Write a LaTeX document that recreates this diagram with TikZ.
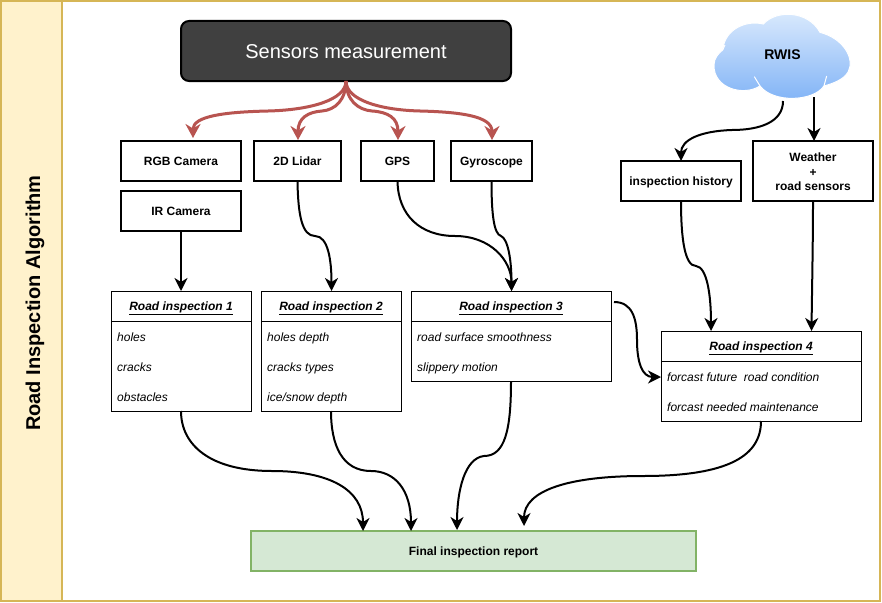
\documentclass[tikz,border=0pt]{standalone}
\usepackage{fontspec}
\setmainfont{Liberation Sans}
\usetikzlibrary{arrows.meta}
\usetikzlibrary{positioning}
\definecolor{stripfill}{HTML}{FFF2CC}
\definecolor{stripline}{HTML}{D6B656}
\definecolor{darkbox}{HTML}{404040}
\definecolor{sensorred}{HTML}{B85450}
\definecolor{finalfill}{HTML}{D5E8D4}
\definecolor{finalline}{HTML}{82B366}
\definecolor{cloudtop}{HTML}{DCEBFD}
\definecolor{cloudbottom}{HTML}{7FB2F6}
\tikzset{flow/.style = {line width = 2, -{Stealth[length = 13pt, width = 13pt, inset = 4pt]}}}
\tikzset{sensorline/.style = {line width = 3, color = sensorred, -{Stealth[length = 14pt, width = 15pt, inset = 4.5pt]}}}
\tikzset{box/.style = {draw, line width = 2, rectangle, inner sep = 0, outer sep = 0, align = center, font = \fontsize{12}{14.6}\selectfont\bfseries}}
\tikzset{boxline/.style = {box, text height = 8.6, text depth = 0}}
\tikzset{roadbox/.style = {draw, line width = 1, rectangle, inner sep = 0, outer sep = 0, fill = white}}
\tikzset{roadtitle/.style = {roadbox, text height = 8.6, text depth = 0, font = \fontsize{12}{14}\selectfont\bfseries\itshape}}
\tikzset{roaditem/.style = {anchor = base west, inner sep = 0, font = \fontsize{12}{14}\selectfont\itshape}}

\begin{document}
\begin{tikzpicture}[x=1pt, y=-1pt]
      \useasboundingbox (0, 0) rectangle (882, 602);
      \fill [white] (0, 0) rectangle (882, 602);

      \draw [stripline, line width = 2] (1, 1.5) rectangle (880, 601);
      \draw [stripline, line width = 2, fill = stripfill] (1, 1.5) rectangle (61.5, 601);
      \node [rotate = 90, font = \fontsize{20}{24}\selectfont\bfseries] (title) at (35, 303) {Road Inspection Algorithm};

      \node [draw, line width = 2, fill = darkbox, text = white, rounded corners = 8, minimum width = 330, minimum height = 60, inner sep = 0, outer sep = 0, text height = 14.4, text depth = 0, font = \fontsize{20}{24}\selectfont] (sensors) at (346, 51) {Sensors measurement};

      \node [boxline, minimum width = 120, minimum height = 40] (rgb) at (181, 161) {RGB Camera};
      \node [boxline, minimum width = 120, minimum height = 40] (ir) at (181, 211) {IR Camera};
      \node [boxline, minimum width = 87, minimum height = 40] (lidar) at (297.5, 161) {2D Lidar};
      \node [boxline, minimum width = 73, minimum height = 40] (gps) at (397.5, 161) {GPS};
      \node [boxline, minimum width = 81, minimum height = 40] (gyro) at (491.5, 161) {Gyroscope};
      \node [boxline, minimum width = 120, minimum height = 40] (history) at (681, 181) {inspection history};
      \node [box, minimum width = 120, minimum height = 60] (weather) at (813, 171) {};
      \node [box, draw = none] (weatherlabel) at (813, 172) {Weather\\+\\road sensors};

      % cloud
      \begin{scope}[shift = {(600, 0)}, x = 0.3333pt, y = -0.3333pt]
        \draw [white, line width = 1, top color = cloudtop, bottom color = cloudbottom]
        (368, 150) .. controls (375, 85) and (440, 60) .. (490, 72)
        .. controls (530, 28) and (625, 32) .. (660, 97)
        .. controls (730, 115) and (765, 175) .. (745, 215)
        .. controls (730, 240) and (700, 250) .. (672, 258)
        .. controls (640, 305) and (520, 310) .. (480, 258)
        .. controls (430, 290) and (340, 265) .. (342, 195)
        .. controls (342, 175) and (355, 160) .. (368, 150) -- cycle;
        \draw [white, line width = 1] (480, 258) -- (463, 230);
        \draw [white, line width = 1] (672, 258) -- (680, 228);
        \draw [white, line width = 1] (368, 150) -- (375, 135);
      \end{scope}
      \node [font = \fontsize{14}{16}\selectfont\bfseries] (rwis) at (782.5, 55) {RWIS};

      \node [roadbox, minimum width = 140, minimum height = 120] (road1) at (181, 351) {};
      \node [roadtitle, minimum width = 140, minimum height = 30] (road1head) at (181, 306) {\underline{Road inspection 1}};
      \node [roaditem] (holes) at (117, 341) {holes};
      \node [roaditem] (cracks) at (117, 371) {cracks};
      \node [roaditem] (obstacles) at (117, 401) {obstacles};

      \node [roadbox, minimum width = 140, minimum height = 120] (road2) at (331, 351) {};
      \node [roadtitle, minimum width = 140, minimum height = 30] (road2head) at (331, 306) {\underline{Road inspection 2}};
      \node [roaditem] (depth) at (267, 341) {holes depth};
      \node [roaditem] (types) at (267, 371) {cracks types};
      \node [roaditem] (snow) at (267, 401) {ice/snow depth};

      \node [roadbox, minimum width = 200, minimum height = 90] (road3) at (511, 336) {};
      \node [roadtitle, minimum width = 200, minimum height = 30] (road3head) at (511, 306) {\underline{Road inspection 3}};
      \node [roaditem] (smooth) at (417, 341) {road surface smoothness};
      \node [roaditem] (slippery) at (417, 371) {slippery motion};

      \node [roadbox, minimum width = 200, minimum height = 90] (road4) at (761, 376) {};
      \node [roadtitle, minimum width = 200, minimum height = 30] (road4head) at (761, 346) {\underline{Road inspection 4}};
      \node [roaditem] (future) at (667, 381) {forcast future\ \ road condition};
      \node [roaditem] (needed) at (667, 411) {forcast needed maintenance};

      \node [draw = finalline, line width = 2, fill = finalfill, minimum width = 445, minimum height = 40, inner sep = 0, outer sep = 0, text height = 8.6, text depth = 0, font = \fontsize{12}{14}\selectfont\bfseries] (final) at (473.5, 551) {Final inspection report};

      \coordinate (rgbin) at (193, 138);
      \coordinate (lidarin) at (298, 140);
      \coordinate (gpsin) at (398, 140);
      \coordinate (gyroin) at (492, 140);
      \coordinate (road2in) at (331.5, 291);
      \coordinate (road3in) at (511.5, 291);
      \coordinate (road4a) at (711, 331);
      \coordinate (road4b) at (811.5, 331);
      \coordinate (road4c) at (661, 377);
      \coordinate (road3out) at (614, 302);
      \coordinate (finala) at (363, 531);
      \coordinate (finalb) at (411, 531);
      \coordinate (finalc) at (457, 530);
      \coordinate (finald) at (524, 526);
      \coordinate (cloudl) at (783, 101);
      \coordinate (cloudr) at (814, 97);
      \coordinate (historyin) at (681, 161);
      \coordinate (weatherin) at (814, 141);

      \draw [sensorline] (sensors.south) .. controls (346, 100) and (310, 110) .. (268, 111) .. controls (225, 112) and (193, 116) .. (rgbin);
      \draw [sensorline] (sensors.south) .. controls (346, 100) and (335, 110) .. (322, 111) .. controls (308, 112) and (298, 118) .. (lidarin);
      \draw [sensorline] (sensors.south) .. controls (346, 100) and (358, 110) .. (372, 111) .. controls (388, 112) and (398, 118) .. (gpsin);
      \draw [sensorline] (sensors.south) .. controls (346, 100) and (380, 110) .. (420, 111) .. controls (460, 112) and (492, 116) .. (gyroin);

      \draw [flow] (ir.south) -- (road1.north);
      \draw [flow] (lidar.south) .. controls (298, 215) and (302, 236) .. (315, 236) .. controls (328, 236) and (331.5, 260) .. (road2in);
      \draw [flow] (gps.south) .. controls (398, 215) and (420, 236) .. (455, 236) .. controls (490, 236) and (511.5, 260) .. (road3in);
      \draw [flow] (gyro.south) .. controls (491.5, 215) and (494, 234) .. (501, 236) .. controls (508, 239) and (511.5, 260) .. (road3in);
      \draw [flow] (road1.south) .. controls (181, 445) and (210, 471) .. (272, 471) .. controls (330, 471) and (363, 490) .. (finala);
      \draw [flow] (road2.south) .. controls (331, 445) and (342, 471) .. (371, 471) .. controls (395, 471) and (411, 490) .. (finalb);
      \draw [flow] (road3.south) .. controls (511, 430) and (505, 456) .. (484, 456) .. controls (465, 458) and (457, 490) .. (finalc);
      \draw [flow] (road4.south) .. controls (761, 455) and (730, 476) .. (643, 476) .. controls (570, 476) and (524, 490) .. (finald);
      \draw [flow] (road3out) .. controls (632, 302) and (637, 318) .. (637, 340) .. controls (637, 362) and (642, 377) .. (road4c);
      \draw [flow] (cloudl) .. controls (783, 122) and (760, 130) .. (732, 130) .. controls (700, 131) and (681, 140) .. (historyin);
      \draw [flow] (cloudr) -- (weatherin);
      \draw [flow] (history.south) .. controls (681, 240) and (685, 266) .. (696, 266) .. controls (707, 267) and (711, 295) .. (road4a);
      \draw [flow] (weather.south) .. controls (813, 240) and (812, 290) .. (road4b);
    \end{tikzpicture}
\end{document}
